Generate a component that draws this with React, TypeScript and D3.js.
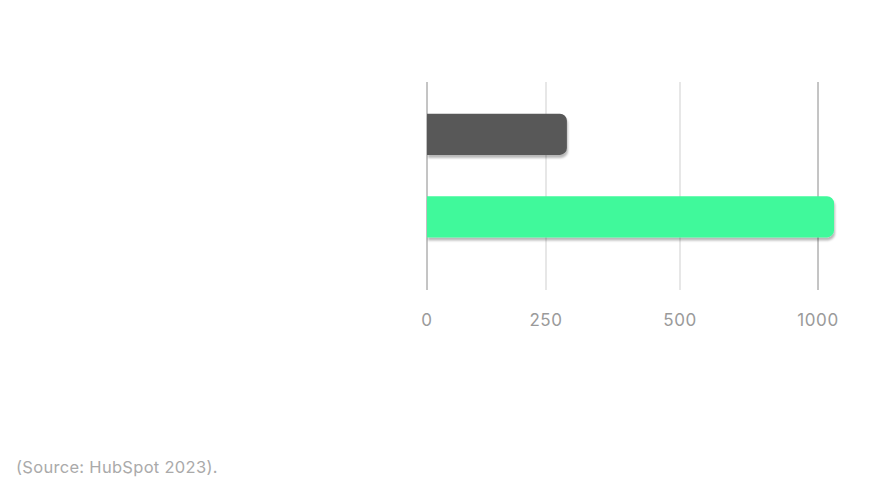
import React from "react";
import * as d3 from "d3";

const categories = ["A", "B"];
const values = [289, 1058];
const barColors = ["#595959", "#40F99B"];
const tickValues = [0, 250, 500, 1000];
const tickLabels = ["0", "250", "500", "1000"];
const gridColors = ["#8a8a8a", "#cfcfcf", "#cfcfcf", "#8a8a8a"];
const sourceText = "(Source: HubSpot 2023).";

const W = 878;
const H = 481;

export default function App() {
  const x = d3.scaleLinear().domain(tickValues).range([427, 546, 680, 818]);
  const y = d3.scaleBand().domain(categories).range([93, 258]).paddingInner(0.5).paddingOuter(0.25);
  const r = 7;
  const barPath = (x0: number, x1: number, y0: number, h: number) => {
    const p = d3.path();
    p.moveTo(x0, y0);
    p.lineTo(x1 - r, y0);
    p.arcTo(x1, y0, x1, y0 + r, r);
    p.lineTo(x1, y0 + h - r);
    p.arcTo(x1, y0 + h, x1 - r, y0 + h, r);
    p.lineTo(x0, y0 + h);
    p.closePath();
    return p.toString();
  };
  return (
    <div style={{ position: "absolute", left: 0, top: 0 }}>
      <svg width={W} height={H} style={{ display: "block" }}>
        <defs>
          <filter id="sh" x="-10%" y="-30%" width="120%" height="170%">
            <feDropShadow dx="1" dy="3" stdDeviation="1.2" floodColor="#000" floodOpacity="0.28" />
          </filter>
        </defs>
        <rect width={W} height={H} fill="#fff" />
        {tickValues.map((t, i) => (
          <line key={t} x1={x(t)} x2={x(t)} y1={82} y2={290} stroke={gridColors[i]} strokeWidth={1} />
        ))}
        {categories.map((c, i) => (
          <path
            key={c}
            d={barPath(x(0), x(values[i]), y(c)!, y.bandwidth())}
            fill={barColors[i]}
            filter="url(#sh)"
          />
        ))}
        {tickValues.map((t, i) => (
          <text
            key={t}
            x={x(t)}
            y={326}
            textAnchor="middle"
            fontFamily="Inter, 'Noto Sans', sans-serif"
            fontSize={17}
            letterSpacing={0.6}
            fill="#9a9a9a"
          >
            {tickLabels[i]}
          </text>
        ))}
        <text x={16} y={473} fontFamily="Inter, 'Noto Sans', sans-serif" fontSize={16.5} letterSpacing={0.3} fill="#aaaaaa">
          {sourceText}
        </text>
      </svg>
    </div>
  );
}
